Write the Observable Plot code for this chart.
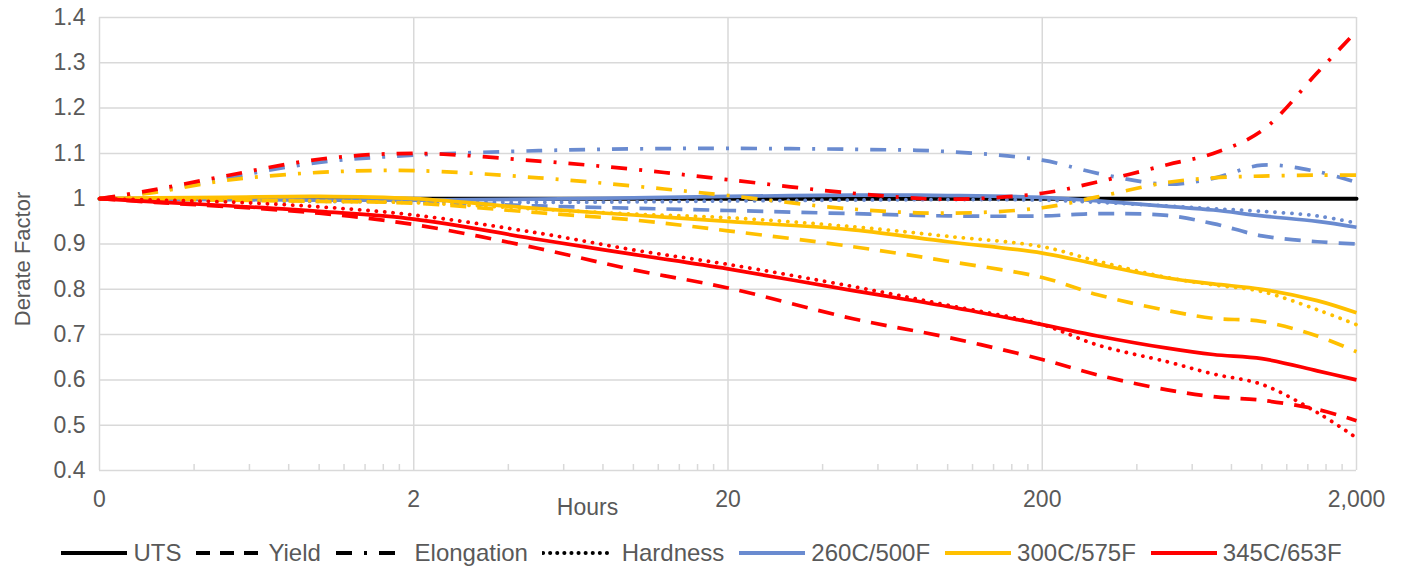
<!DOCTYPE html>
<html>
<head>
<meta charset="utf-8">
<script src="https://cdn.jsdelivr.net/npm/d3@7"></script>
<script src="https://cdn.jsdelivr.net/npm/@observablehq/plot@0.6"></script>
<style>
  html, body { margin: 0; padding: 0; background: #ffffff; }
  body { width: 1402px; height: 567px; overflow: hidden; position: relative;
         font-family: "Liberation Sans", Arial, sans-serif; }
  #chart { position: absolute; left: 0; top: 0; }
  #legend { position: absolute; left: 0; top: 538px; width: 1402px; height: 30px;
            display: flex; justify-content: center; align-items: center;
            font-size: 24px; color: #595959; white-space: pre; }
  .item { display: flex; align-items: center; margin: 0 7px; }
  .item svg { margin-right: 5px; }
</style>
</head>
<body>
<div id="chart"></div>
<div id="legend"></div>
<script>
// ---- Data ----
const hours = [0.2, 0.3, 0.5, 1, 2, 5, 10, 20, 50, 100, 200, 300, 500, 700, 1000, 1500, 2000];

const t260_UTS        = [1, 0.999, 0.998, 0.997, 0.997, 0.999, 1.002, 1.005, 1.008, 1.007, 1.003, 0.995, 0.983, 0.975, 0.962, 0.950, 0.937];
const t260_Yield      = [1, 0.999, 0.998, 0.996, 0.993, 0.984, 0.979, 0.974, 0.967, 0.962, 0.962, 0.967, 0.963, 0.945, 0.918, 0.905, 0.900];
const t260_Elongation = [1, 1.016, 1.045, 1.080, 1.096, 1.106, 1.110, 1.111, 1.109, 1.104, 1.085, 1.056, 1.032, 1.045, 1.074, 1.060, 1.036];
const t260_Hardness   = [1, 0.998, 0.996, 0.994, 0.993, 0.992, 0.993, 0.995, 0.997, 0.998, 0.997, 0.992, 0.984, 0.978, 0.972, 0.962, 0.946];

const t300_UTS        = [1, 1.002, 1.003, 1.005, 1.000, 0.978, 0.964, 0.950, 0.931, 0.905, 0.880, 0.855, 0.825, 0.812, 0.800, 0.775, 0.748];
const t300_Yield      = [1, 0.999, 0.997, 0.994, 0.990, 0.969, 0.953, 0.929, 0.894, 0.862, 0.826, 0.788, 0.753, 0.736, 0.729, 0.697, 0.662];
const t300_Elongation = [1, 1.014, 1.040, 1.058, 1.062, 1.046, 1.028, 1.007, 0.977, 0.968, 0.980, 1.004, 1.036, 1.046, 1.050, 1.052, 1.052];
const t300_Hardness   = [1, 0.999, 0.997, 0.995, 0.991, 0.977, 0.966, 0.958, 0.938, 0.917, 0.894, 0.862, 0.826, 0.810, 0.795, 0.755, 0.722];

const t345_UTS        = [1, 0.993, 0.985, 0.972, 0.955, 0.910, 0.877, 0.845, 0.797, 0.762, 0.722, 0.697, 0.670, 0.656, 0.647, 0.620, 0.600];
const t345_Yield      = [1, 0.992, 0.983, 0.968, 0.943, 0.890, 0.843, 0.803, 0.735, 0.694, 0.645, 0.611, 0.578, 0.563, 0.555, 0.535, 0.510];
const t345_Elongation = [1, 1.020, 1.050, 1.087, 1.100, 1.083, 1.065, 1.042, 1.012, 0.999, 1.012, 1.037, 1.075, 1.100, 1.150, 1.278, 1.370];
const t345_Hardness   = [1, 0.997, 0.993, 0.982, 0.964, 0.924, 0.887, 0.855, 0.806, 0.765, 0.722, 0.677, 0.640, 0.613, 0.590, 0.528, 0.472];

// reference (UTS legend style line) at derate factor 1
const refHours  = [0.2, 2000];
const refValues = [1, 1];

const temperatures = ["260C/500F", "300C/575F", "345C/653F"];
const properties   = ["UTS", "Yield", "Elongation", "Hardness"];
const xTickValues  = [0.2, 2, 20, 200, 2000];
const xTickLabels  = ["0", "2", "20", "200", "2,000"];
const yTickValues  = [0.4, 0.5, 0.6, 0.7, 0.8, 0.9, 1.0, 1.1, 1.2, 1.3, 1.4];

// ---- Styles ----
const tempColor = {"260C/500F": "#6a8bd0", "300C/575F": "#ffc000", "345C/653F": "#ff0000"};
const propDash  = {"UTS": null, "Yield": "16,11", "Elongation": "16,12,3,12", "Hardness": "0.1,8.3"};
const propCap   = {"UTS": "butt", "Yield": "butt", "Elongation": "butt", "Hardness": "round"};
const seriesValues = {
  "260C/500F": {UTS: t260_UTS, Yield: t260_Yield, Elongation: t260_Elongation, Hardness: t260_Hardness},
  "300C/575F": {UTS: t300_UTS, Yield: t300_Yield, Elongation: t300_Elongation, Hardness: t300_Hardness},
  "345C/653F": {UTS: t345_UTS, Yield: t345_Yield, Elongation: t345_Elongation, Hardness: t345_Hardness}
};

const W = 1402, H = 525, mL = 99, mR = 46, mT = 17, mB = 55;
const grid = "#d9d9d9", textCol = "#595959";

// minor ticks of the log axis
const minorTicks = [];
for (const base of [0.2, 2, 20, 200]) for (let k = 2; k <= 9; k++) minorTicks.push(+(base * k).toPrecision(6));

const marks = [
  Plot.gridY(yTickValues, {stroke: grid, strokeOpacity: 1, strokeWidth: 1.5}),
  Plot.gridX(xTickValues, {stroke: grid, strokeOpacity: 1, strokeWidth: 1.5}),
  Plot.tickX(minorTicks, {x: d => d, stroke: grid, strokeWidth: 1.5, insetTop: (H - mT - mB) - 6}),
  Plot.axisY(yTickValues, {tickSize: 0, tickPadding: 14, fontSize: 23, fill: textCol, label: null,
                           tickFormat: d => String(+d.toFixed(1))}),
  Plot.axisX(xTickValues, {tickSize: 0, tickPadding: 20, fontSize: 23, fill: textCol, label: null,
                           tickFormat: d => xTickLabels[xTickValues.indexOf(d)]}),
  Plot.line(refHours.map((h, i) => ({h, v: refValues[i]})), {x: "h", y: "v", stroke: "#000000", strokeWidth: 4})
];

for (const t of temperatures) {
  for (const p of properties) {
    const vals = seriesValues[t][p];
    marks.push(Plot.line(hours.map((h, i) => ({h, v: vals[i]})), {
      x: "h", y: "v", curve: "catmull-rom",
      stroke: tempColor[t], strokeWidth: p === "Hardness" ? 3.8 : 3.7,
      strokeDasharray: propDash[p], strokeLinecap: propCap[p], strokeLinejoin: "round"
    }));
  }
}

marks.push(Plot.text(["Hours"], {frameAnchor: "bottom-left", dx: 488, dy: 44, fontSize: 23, fill: textCol, textAnchor: "middle"}));
marks.push(Plot.text(["Derate Factor"], {frameAnchor: "left", dx: -77, dy: 15, rotate: -90, fontSize: 22, fill: textCol, textAnchor: "middle"}));

const chart = Plot.plot({
  width: W, height: H,
  marginLeft: mL, marginRight: mR, marginTop: mT, marginBottom: mB,
  style: {fontFamily: "'Liberation Sans', Arial, sans-serif", background: "#ffffff", overflow: "visible"},
  x: {type: "log", domain: [0.2, 2000], axis: null, label: null},
  y: {domain: [0.4, 1.4], axis: null, label: null},
  marks
});
document.getElementById("chart").appendChild(chart);

// ---- Legend ----
const legendItems = [
  {label: "UTS", color: "#000000", dash: propDash.UTS, cap: "butt"},
  {label: "Yield", color: "#000000", dash: "14,10", cap: "butt"},
  {label: " Elongation", color: "#000000", dash: "16,12,3,12", cap: "butt"},
  {label: " Hardness", color: "#000000", dash: "0.1,7", cap: "round"},
  {label: temperatures[0], color: tempColor[temperatures[0]], dash: null, cap: "butt"},
  {label: temperatures[1], color: tempColor[temperatures[1]], dash: null, cap: "butt"},
  {label: temperatures[2], color: tempColor[temperatures[2]], dash: null, cap: "butt"}
];
const legend = document.getElementById("legend");
for (const it of legendItems) {
  const div = document.createElement("div");
  div.className = "item";
  const svgNS = "http://www.w3.org/2000/svg";
  const s = document.createElementNS(svgNS, "svg");
  s.setAttribute("width", 68); s.setAttribute("height", 10);
  const l = document.createElementNS(svgNS, "line");
  l.setAttribute("x1", 1); l.setAttribute("x2", 67); l.setAttribute("y1", 5); l.setAttribute("y2", 5);
  l.setAttribute("stroke", it.color); l.setAttribute("stroke-width", 4);
  l.setAttribute("stroke-linecap", it.cap);
  if (it.dash) l.setAttribute("stroke-dasharray", it.dash);
  s.appendChild(l);
  const span = document.createElement("span");
  span.textContent = it.label;
  div.appendChild(s); div.appendChild(span);
  legend.appendChild(div);
}
</script>
</body>
</html>
